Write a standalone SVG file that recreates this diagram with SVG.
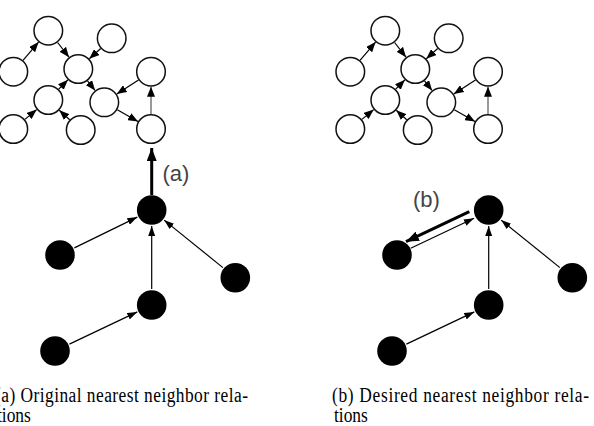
<svg xmlns="http://www.w3.org/2000/svg" width="594" height="426" viewBox="0 0 594 426">
<style>
.w{fill:#fff;stroke:#111;stroke-width:1.5}
.b{fill:#000}
.e{stroke:#000;stroke-width:1.2;fill:none;marker-end:url(#ah)}
.g{stroke:#000;stroke-width:1.2;fill:none;marker-end:url(#as)}
.t{stroke:#000;stroke-width:3;fill:none;marker-end:url(#at)}
.lbl{font-family:"Liberation Sans",Arial,sans-serif;font-size:22px;fill:#444}
.cap{font-family:"Liberation Serif","Times New Roman",serif;font-size:20px;fill:#000}
</style>
<defs>
<marker id="ah" markerUnits="userSpaceOnUse" markerWidth="10" markerHeight="8" refX="10" refY="4" orient="auto"><path d="M0,0 L10,4 L0,8 z" fill="#000"/></marker>
<marker id="as" markerUnits="userSpaceOnUse" markerWidth="10" markerHeight="7" refX="10" refY="3.5" orient="auto"><path d="M0,0 L10,3.5 L0,7 z" fill="#000"/></marker>
<marker id="at" markerUnits="userSpaceOnUse" markerWidth="13" markerHeight="10" refX="13" refY="5" orient="auto"><path d="M0,0 L13,5 L0,10 z" fill="#000"/></marker>
</defs>
<rect width="594" height="426" fill="#fff"/>
<g id="connectors">
<line class="e" x1="23.0" y1="60.3" x2="38.6" y2="42.1"/>
<line class="e" x1="57.6" y1="42.5" x2="69.0" y2="57.2"/>
<line class="e" x1="100.7" y1="48.5" x2="89.3" y2="58.8"/>
<line class="e" x1="58.7" y1="89.2" x2="67.9" y2="79.8"/>
<line class="e" x1="87.5" y1="80.8" x2="95.1" y2="90.5"/>
<line class="e" x1="138.5" y1="79.9" x2="116.8" y2="94.1"/>
<line class="e" x1="117.3" y1="109.7" x2="138.0" y2="121.6"/>
<line class="e" x1="151" y1="114" x2="151" y2="86.7" style="stroke:#555"/>
<line class="e" x1="24.9" y1="119.4" x2="36.7" y2="109.6"/>
<line class="e" x1="69.7" y1="119.8" x2="59.3" y2="110.2"/>
<line class="g" x1="74.4" y1="247.9" x2="137.3" y2="217.1"/>
<line class="g" x1="151.7" y1="289" x2="151.7" y2="226"/>
<line class="g" x1="222.9" y1="267.6" x2="164.1" y2="220.1"/>
<line class="g" x1="69.4" y1="344.1" x2="137.3" y2="311.9"/>
<line class="t" x1="151.7" y1="195" x2="151.7" y2="148"/>
<line class="e" x1="360.0" y1="60.3" x2="375.6" y2="42.1"/>
<line class="e" x1="394.6" y1="42.5" x2="406.0" y2="57.2"/>
<line class="e" x1="437.7" y1="48.5" x2="426.3" y2="58.8"/>
<line class="e" x1="395.7" y1="89.2" x2="404.9" y2="79.8"/>
<line class="e" x1="424.5" y1="80.8" x2="432.1" y2="90.5"/>
<line class="e" x1="475.5" y1="79.9" x2="453.8" y2="94.1"/>
<line class="e" x1="454.3" y1="109.7" x2="475.0" y2="121.6"/>
<line class="e" x1="488" y1="114" x2="488" y2="86.7" style="stroke:#555"/>
<line class="e" x1="361.9" y1="119.4" x2="373.7" y2="109.6"/>
<line class="e" x1="406.7" y1="119.8" x2="396.3" y2="110.2"/>
<line class="g" x1="410.7" y1="248.3" x2="474" y2="218.3"/>
<line class="g" x1="488.7" y1="289" x2="488.7" y2="226"/>
<line class="g" x1="559.9" y1="267.6" x2="501.1" y2="220.1"/>
<line class="g" x1="406.4" y1="344.1" x2="474.3" y2="311.9"/>
<line class="t" x1="469.3" y1="211.7" x2="406" y2="241.7"/>
</g>
<g id="a-A"><circle class="w" cx="48.3" cy="30.7" r="14.3"/></g>
<g id="a-B"><circle class="w" cx="111.7" cy="38.3" r="14.3"/></g>
<g id="a-C"><circle class="w" cx="13.3" cy="71.7" r="14.3"/></g>
<g id="a-D"><circle class="w" cx="78.3" cy="69" r="14.3"/></g>
<g id="a-E"><circle class="w" cx="151" cy="71.7" r="14.3"/></g>
<g id="a-F"><circle class="w" cx="48.3" cy="100" r="14.3"/></g>
<g id="a-G"><circle class="w" cx="104.3" cy="102.3" r="14.3"/></g>
<g id="a-H"><circle class="w" cx="13.3" cy="129" r="14.3"/></g>
<g id="a-I"><circle class="w" cx="80.7" cy="130" r="14.3"/></g>
<g id="a-J"><circle class="w" cx="151" cy="129" r="14.3"/></g>
<g id="a-K"><circle class="b" cx="151.7" cy="210" r="14.8"/></g>
<g id="a-L"><circle class="b" cx="60" cy="255" r="14.8"/></g>
<g id="a-M"><circle class="b" cx="235.3" cy="277.7" r="14.8"/></g>
<g id="a-N"><circle class="b" cx="151.7" cy="305" r="14.8"/></g>
<g id="a-O"><circle class="b" cx="55" cy="351" r="14.8"/></g>
<g id="b-A"><circle class="w" cx="385.3" cy="30.7" r="14.3"/></g>
<g id="b-B"><circle class="w" cx="448.7" cy="38.3" r="14.3"/></g>
<g id="b-C"><circle class="w" cx="350.3" cy="71.7" r="14.3"/></g>
<g id="b-D"><circle class="w" cx="415.3" cy="69" r="14.3"/></g>
<g id="b-E"><circle class="w" cx="488" cy="71.7" r="14.3"/></g>
<g id="b-F"><circle class="w" cx="385.3" cy="100" r="14.3"/></g>
<g id="b-G"><circle class="w" cx="441.3" cy="102.3" r="14.3"/></g>
<g id="b-H"><circle class="w" cx="350.3" cy="129" r="14.3"/></g>
<g id="b-I"><circle class="w" cx="417.7" cy="130" r="14.3"/></g>
<g id="b-J"><circle class="w" cx="488" cy="129" r="14.3"/></g>
<g id="b-K"><circle class="b" cx="488.7" cy="210" r="14.8"/></g>
<g id="b-L"><circle class="b" cx="397" cy="255" r="14.8"/></g>
<g id="b-M"><circle class="b" cx="572.3" cy="277.7" r="14.8"/></g>
<g id="b-N"><circle class="b" cx="488.7" cy="305" r="14.8"/></g>
<g id="b-O"><circle class="b" cx="392" cy="351" r="14.8"/></g>
<text class="lbl" x="162.5" y="180.5">(a)</text>
<text class="lbl" x="413" y="207">(b)</text>
<text class="cap" transform="translate(-5,401.5) scale(0.87,1)" textLength="290.8" lengthAdjust="spacing">(a) Original nearest neighbor rela-</text>
<text class="cap" transform="translate(-3,421.7) scale(0.87,1)">tions</text>
<text class="cap" transform="translate(332,401.5) scale(0.87,1)" textLength="295.4" lengthAdjust="spacing">(b) Desired nearest neighbor rela-</text>
<text class="cap" transform="translate(334,421.7) scale(0.87,1)">tions</text>
</svg>
